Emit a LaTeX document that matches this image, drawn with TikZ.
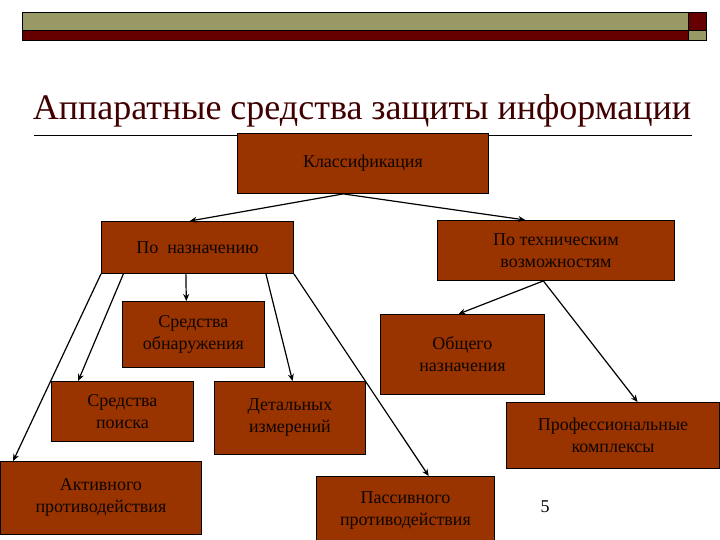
\documentclass[tikz,border=0pt]{standalone}
\usepackage{fontspec}
\setmainfont{Liberation Serif}
\usetikzlibrary{arrows.meta,calc}
\definecolor{boxfill}{RGB}{153,51,0}
\definecolor{bargray}{RGB}{153,153,102}
\definecolor{barred}{RGB}{102,0,0}
\definecolor{titlecol}{RGB}{64,0,0}
\begin{document}
\begin{tikzpicture}[x=1pt,y=-1pt,
  box/.style={draw=black, line width=0.9pt, fill=boxfill, anchor=north west, align=center,
    inner sep=0pt, text=black!90!boxfill, font=\fontsize{18}{22}\selectfont},
  conn/.style={draw=black, line width=1.2pt, -{Stealth[length=7pt,width=6pt]}},
  barbox/.style={draw=black, line width=0.6pt}]
\useasboundingbox[fill=white] (0,0) rectangle (720,540);
% header bar
\path[barbox, fill=bargray] (22,12) rectangle (688,30);
\path[barbox, fill=barred] (22,30) rectangle (688,40);
\path[barbox, fill=barred] (688,12) rectangle (706,30);
\path[barbox, fill=bargray] (688,30) rectangle (706,40);
% title
\node[anchor=base, text=titlecol, font=\fontsize{36}{43}\selectfont, inner sep=0pt] (title) at (362,120) {Аппаратные средства защиты информации};
\draw[line width=0.8pt] (34,135) coordinate (rl) -- (692,135) coordinate (rr);
% boxes
\node[box, minimum width=251pt, minimum height=60pt] (kl) at (237,133) {Классификация};
\node[box, minimum width=192pt, minimum height=52pt] (pn) at (101,221) {По\ \ назначению};
\node[box, minimum width=237pt, minimum height=60pt] (pt) at (437,220) {По техническим\\ возможностям};
\node[box, minimum width=142pt, minimum height=66pt] (ob) at (122,301) {Средства\\ обнаружения};
\node[box, minimum width=164pt, minimum height=80pt] (og) at (380,314) {Общего\\ назначения};
\node[box, minimum width=142pt, minimum height=60pt] (sp) at (51,381) {Средства\\ поиска};
\node[box, minimum width=151pt, minimum height=73pt] (di) at (214,381) {Детальных\\ измерений};
\node[box, minimum width=213pt, minimum height=66pt] (pk) at (506,402) {Профессиональные\\ комплексы};
\node[box, minimum width=201pt, minimum height=73pt] (ap) at (0,461) {Активного\\ противодействия};
\node[box, minimum width=178pt, minimum height=69pt] (pp) at (316,476) {Пассивного\\ противодействия};
\node[font=\fontsize{18}{22}\selectfont, inner sep=0pt] (num) at (545,507) {5};
% connectors
\draw[conn] ($(kl.south west)!0.422!(kl.south east)$) -- ($(pn.north west)!0.46!(pn.north east)$);
\draw[conn] ($(kl.south west)!0.422!(kl.south east)$) -- ($(pt.north west)!0.371!(pt.north east)$);
\draw[conn] (pn.south west) -- ($(ap.north west)!0.065!(ap.north east)$);
\draw[conn] ($(pn.south west)!0.116!(pn.south east)$) -- ($(sp.north west)!0.19!(sp.north east)$);
\draw[conn] ($(pn.south west)!0.44!(pn.south east)$) -- ($(ob.north west)!0.45!(ob.north east)$);
\draw[conn] ($(pn.south west)!0.855!(pn.south east)$) -- ($(di.north west)!0.517!(di.north east)$);
\draw[conn] (pn.south east) -- ($(pp.north west)!0.63!(pp.north east)$);
\draw[conn] ($(pt.south west)!0.447!(pt.south east)$) -- ($(og.north west)!0.476!(og.north east)$);
\draw[conn] ($(pt.south west)!0.447!(pt.south east)$) -- ($(pk.north west)!0.615!(pk.north east)$);
\end{tikzpicture}
\end{document}
